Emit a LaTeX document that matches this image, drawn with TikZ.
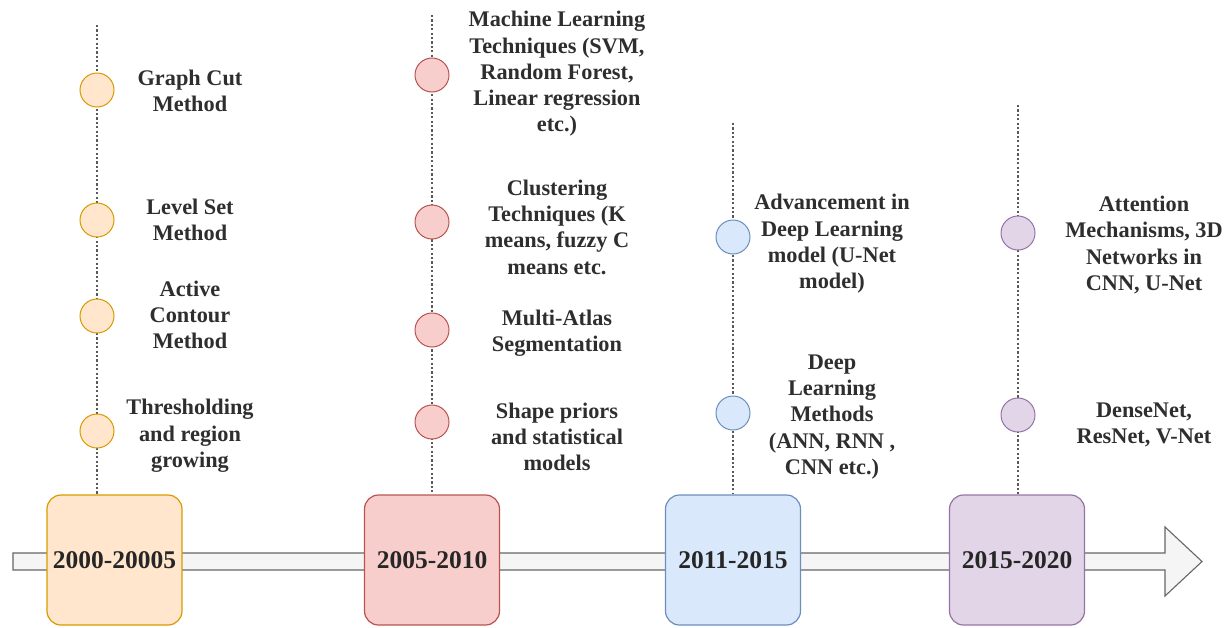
\documentclass[tikz,border=0pt]{standalone}
\usepackage{fontspec}
\setmainfont{Liberation Serif}
\definecolor{orF}{HTML}{FFE6CC}\definecolor{orD}{HTML}{D79B00}
\definecolor{rdF}{HTML}{F8CECC}\definecolor{rdD}{HTML}{B85450}
\definecolor{blF}{HTML}{DAE8FC}\definecolor{blD}{HTML}{6C8EBF}
\definecolor{puF}{HTML}{E1D5E7}\definecolor{puD}{HTML}{9673A6}
\definecolor{arF}{HTML}{F5F5F5}\definecolor{arD}{HTML}{666666}
\tikzset{
  yearbox/.style={draw=#1D, fill=#1F, line width=1.2pt, rounded corners=14pt,
    minimum width=135pt, minimum height=130pt, inner sep=0pt,
    font=\fontsize{25.5}{30}\selectfont\bfseries, text=black!85},
  dot/.style={circle, draw=#1D, fill=#1F, line width=1pt, minimum size=34pt, inner sep=0pt},
  lbl/.style={align=center, font=\fontsize{22.3}{26.3}\selectfont\bfseries, text=black!82, inner sep=0pt},
  tline/.style={draw=black!65, line width=1.1pt, dash pattern=on 2.2pt off 2.2pt},
  timearrow/.style={draw=arD, fill=arF, line width=1.1pt}
}
\begin{document}
\begin{tikzpicture}[x=1pt,y=-1pt]
\useasboundingbox (0,0) rectangle (1231,627);
% arrow
\coordinate (a0) at (13,553);
\draw[timearrow] (13,553) -- (1165,553) -- (1165,527) -- (1202,561.5) -- (1165,596) -- (1165,570) -- (13,570) -- cycle;
% boxes
\node[yearbox=or] (b1) at (114.5,560) {2000-20005};
\node[yearbox=rd] (b2) at (432,560) {2005-2010};
\node[yearbox=bl] (b3) at (733,560) {2011-2015};
\node[yearbox=pu] (b4) at (1017,560) {2015-2020};
% tops of timelines
\coordinate (t1) at (97,25);
\coordinate (t2) at (432,15);
\coordinate (t3) at (733,123);
\coordinate (t4) at (1018,105);
\draw[tline] (t1) -- (t1 |- b1.north);
\draw[tline] (t2) -- (t2 |- b2.north);
\draw[tline] (t3) -- (t3 |- b3.north);
\draw[tline] (t4) -- (t4 |- b4.north);
% column 1
\node[dot=or] (c11) at (97,90) {};
\node[dot=or] (c12) at (97,220) {};
\node[dot=or] (c13) at (97,316) {};
\node[dot=or] (c14) at (97,431) {};
\node[lbl] (l11) at (190,91) {Graph Cut\\Method};
\node[lbl] (l12) at (190,220) {Level Set\\Method};
\node[lbl] (l13) at (190,315) {Active\\Contour\\Method};
\node[lbl] (l14) at (190,436) {Thresholding\\and region\\growing};
% column 2
\node[dot=rd] (c21) at (432,75) {};
\node[dot=rd] (c22) at (432,222) {};
\node[dot=rd] (c23) at (432,330) {};
\node[dot=rd] (c24) at (432,422) {};
\node[lbl] (l21) at (557,74) {Machine Learning\\Techniques (SVM,\\Random Forest,\\Linear regression\\etc.)};
\node[lbl] (l22) at (557,227) {Clustering\\Techniques (K\\means, fuzzy C\\means etc.};
\node[lbl] (l23) at (557,333) {Multi-Atlas\\Segmentation};
\node[lbl] (l24) at (557,437) {Shape priors\\and statistical\\models};
% column 3
\node[dot=bl] (c31) at (733,237) {};
\node[dot=bl] (c32) at (733,413) {};
\node[lbl] (l31) at (832,244) {Advancement in\\Deep Learning\\model (U-Net\\model)};
\node[lbl] (l32) at (832,417) {Deep\\Learning\\Methods\\(ANN, RNN ,\\CNN etc.)};
% column 4
\node[dot=pu] (c41) at (1018,233) {};
\node[dot=pu] (c42) at (1018,415) {};
\node[lbl] (l41) at (1144,245) {Attention\\Mechanisms, 3D\\Networks in\\CNN, U-Net};
\node[lbl] (l42) at (1144,425) {DenseNet,\\ResNet, V-Net};
\end{tikzpicture}
\end{document}
